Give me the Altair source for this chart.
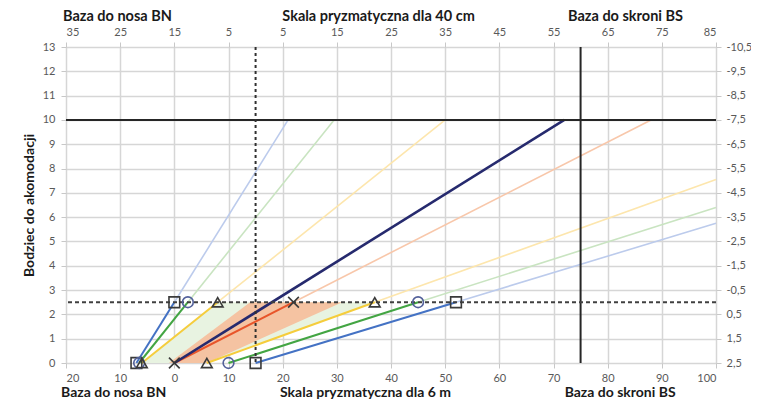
import altair as alt
import pandas as pd

# ---- data ----
# main segments (full colour)
seg_series = ["blue", "green", "yellow", "yellow", "green", "blue", "red", "navy"]
seg_x0 = [-7, -6.5, -6, 6, 10, 15, 0, 0]
seg_y0 = [0, 0, 0, 0, 0, 0, 0, 0]
seg_x1 = [0, 2.5, 8, 37, 45, 52, 22, 72]
seg_y1 = [2.5, 2.5, 2.5, 2.5, 2.5, 2.5, 2.5, 10]

# faint extensions
ext_series = ["blue", "green", "yellow", "yellow", "green", "blue", "red"]
ext_x0 = [0, 2.5, 8, 37, 45, 52, 22]
ext_y0 = [2.5, 2.5, 2.5, 2.5, 2.5, 2.5, 2.5]
ext_x1 = [21, 29.5, 50, 100, 100, 100, 88]
ext_y1 = [10, 10, 10, 7.55, 6.4, 5.75, 10]

# markers
mk_kind = ["square"] * 4 + ["circle"] * 4 + ["triangle"] * 4 + ["cross"] * 2
mk_x = [-7, 0, 15, 52, -6.5, 2.5, 10, 45, -6, 8, 6, 37, 0, 22]
mk_y = [0, 2.5, 0, 2.5, 0, 2.5, 0, 2.5, 0, 2.5, 0, 2.5, 0, 2.5]

# shaded bands (horizontal areas: at each y, from x_left to x_right)
band_name = ["green", "green", "orange", "orange"]
band_y = [0, 2.5, 0, 2.5]
band_xl = [-6, 8, -1, 14]
band_xr = [6, 37, 6, 31]

# reference lines
hline_solid = [10]
vline_solid = [75]
hline_dash = [2.5]
vline_dash = [15]

# annotation titles
top_titles = ["Baza do nosa BN", "Skala pryzmatyczna dla 40 cm", "Baza do skroni BS"]
top_title_x = [-10.5, 37.7, 83.3]
bottom_titles = ["Baza do nosa BN", "Skala pryzmatyczna dla 6 m", "Baza do skroni BS"]
bottom_title_x = [-11.2, 35.3, 82.3]

x_ticks = list(range(-20, 101, 10))
y_ticks = list(range(0, 14))

# ---- chart ----
FONT = "Lato"
xscale = alt.Scale(domain=[-20, 100], nice=False, zero=False)
yscale = alt.Scale(domain=[0, 13], nice=False, zero=False)

bottom_axis = alt.Axis(values=x_ticks, labelExpr="format(abs(datum.value), 'd')",
                       title=None, grid=True, gridColor="#d6d6d6", gridWidth=1.5,
                       domain=False, tickColor="#c8c8c8", tickSize=5, labelPadding=4,
                       labelColor="#595959", labelFontSize=11, labelFont=FONT)
left_axis = alt.Axis(values=y_ticks, title="Bodziec do akomodacji", grid=True,
                     gridColor="#d6d6d6", gridWidth=1.5, domain=False,
                     tickColor="#c8c8c8", tickSize=5, labelPadding=6,
                     labelColor="#595959", labelFontSize=11, labelFont=FONT,
                     titleFont=FONT, titleFontSize=14, titleFontWeight="bold",
                     titleColor="#1a1a1a", titlePadding=6)


def X(field):
    return alt.X(field, type="quantitative", scale=xscale, axis=bottom_axis)


def Y(field):
    return alt.Y(field, type="quantitative", scale=yscale, axis=left_axis)


series_dom = ["blue", "green", "yellow", "red", "navy"]
full_rng = ["#4472c4", "#43a543", "#f5cd3c", "#e8552a", "#262a6e"]
faint_rng = ["#bccbec", "#c9e4c1", "#fde6ad", "#f8c7aa", "#aaaacc"]

seg_df = pd.DataFrame({"s": seg_series, "x0": seg_x0, "y0": seg_y0, "x1": seg_x1, "y1": seg_y1})
ext_df = pd.DataFrame({"s": ext_series, "x0": ext_x0, "y0": ext_y0, "x1": ext_x1, "y1": ext_y1})
mk_df = pd.DataFrame({"k": mk_kind, "x": mk_x, "y": mk_y})
band_df = pd.DataFrame({"b": band_name, "y": band_y, "xl": band_xl, "xr": band_xr})

green_band = alt.Chart(band_df).transform_filter("datum.b == 'green'").mark_area(
    orient="horizontal", color="#e8f3e1").encode(y=Y("y"), x=X("xl"), x2=alt.X2("xr"))
orange_band = alt.Chart(band_df).transform_filter("datum.b == 'orange'").mark_area(
    orient="horizontal", color="#f5c3a2").encode(y=Y("y"), x=X("xl"), x2=alt.X2("xr"))

ext = alt.Chart(ext_df).mark_rule(strokeWidth=1.6).encode(
    x=X("x0"), y=Y("y0"), x2=alt.X2("x1"), y2=alt.Y2("y1"),
    color=alt.Color("s:N", scale=alt.Scale(domain=series_dom, range=faint_rng), legend=None),
)

segs = alt.Chart(seg_df).transform_filter("datum.s != 'navy'").mark_rule(strokeWidth=2).encode(
    x=X("x0"), y=Y("y0"), x2=alt.X2("x1"), y2=alt.Y2("y1"),
    color=alt.Color("s:N", scale=alt.Scale(domain=series_dom, range=full_rng), legend=None),
)
navy = alt.Chart(seg_df).transform_filter("datum.s == 'navy'").mark_rule(strokeWidth=2.6, color="#262a6e").encode(
    x=X("x0"), y=Y("y0"), x2=alt.X2("x1"), y2=alt.Y2("y1"),
)

h_solid = alt.Chart(pd.DataFrame({"y": hline_solid})).mark_rule(color="#262626", strokeWidth=2).encode(y=Y("y"))
v_solid = alt.Chart(pd.DataFrame({"x": vline_solid})).mark_rule(color="#262626", strokeWidth=2).encode(x=X("x"))
h_dash = alt.Chart(pd.DataFrame({"y": hline_dash})).mark_rule(color="#404040", strokeWidth=2, strokeDash=[4, 3]).encode(y=Y("y"))
v_dash = alt.Chart(pd.DataFrame({"x": vline_dash})).mark_rule(color="#303030", strokeWidth=2, strokeDash=[3, 3]).encode(x=X("x"))

cross_path = "M-1,-1L1,1M-1,1L1,-1"
markers = alt.Chart(mk_df).mark_point(filled=False, strokeWidth=1.6, size=115, opacity=1).encode(
    x=X("x"), y=Y("y"),
    shape=alt.Shape("k:N", scale=alt.Scale(domain=["square", "circle", "triangle", "cross"],
                                            range=["square", "circle", "triangle-up", cross_path]), legend=None),
    stroke=alt.Stroke("k:N", scale=alt.Scale(domain=["square", "circle", "triangle", "cross"],
                                              range=["#3a3a3a", "#52609a", "#3a3a3a", "#3a3a3a"]), legend=None),
)

top_txt = alt.Chart(pd.DataFrame({"t": top_titles, "x": top_title_x})).mark_text(
    font=FONT, fontSize=14.5, fontWeight="bold", color="#1a1a1a", baseline="middle", align="center"
).encode(x=X("x"), y=alt.value(-30), text="t:N")
bot_txt = alt.Chart(pd.DataFrame({"t": bottom_titles, "x": bottom_title_x})).mark_text(
    font=FONT, fontSize=14, fontWeight="bold", color="#1a1a1a", baseline="alphabetic", align="center"
).encode(x=X("x"), y=alt.value(350), text="t:N")

main = alt.layer(green_band, orange_band, ext, segs, navy, h_solid, v_solid, h_dash, v_dash,
                 markers, top_txt, bot_txt).resolve_scale(color="independent", stroke="independent",
                                                          shape="independent")

# secondary axes (top and right)
top_axis = alt.Axis(orient="top", values=x_ticks, labelExpr="format(abs(datum.value - 15), 'd')",
                    title=None, grid=False, domain=False, tickColor="#c8c8c8", tickSize=5,
                    labelPadding=5, labelColor="#595959", labelFontSize=11, labelFont=FONT)
right_axis = alt.Axis(orient="right", values=y_ticks,
                      labelExpr="(2.5 - datum.value < 0 ? '-' : '') + replace(format(abs(2.5 - datum.value), '.1f'), '.', ',')",
                      title=None, grid=False, domain=False, tickColor="#c8c8c8", tickSize=5,
                      labelPadding=5, labelColor="#595959", labelFontSize=11, labelFont=FONT)
sec = alt.Chart(mk_df).mark_point(opacity=0).encode(
    x=alt.X("x:Q", scale=xscale, axis=top_axis),
    y=alt.Y("y:Q", scale=yscale, axis=right_axis),
)

chart = alt.layer(main, sec).resolve_scale(x="independent", y="independent").properties(
    width=650, height=316,
    autosize=alt.AutoSizeParams(type="none"),
    padding={"left": 58, "top": 39, "right": 35, "bottom": 36},
).configure_view(stroke=None).configure(background="white")

chart.save("out.html", embed_options={"renderer": "svg", "actions": False})
